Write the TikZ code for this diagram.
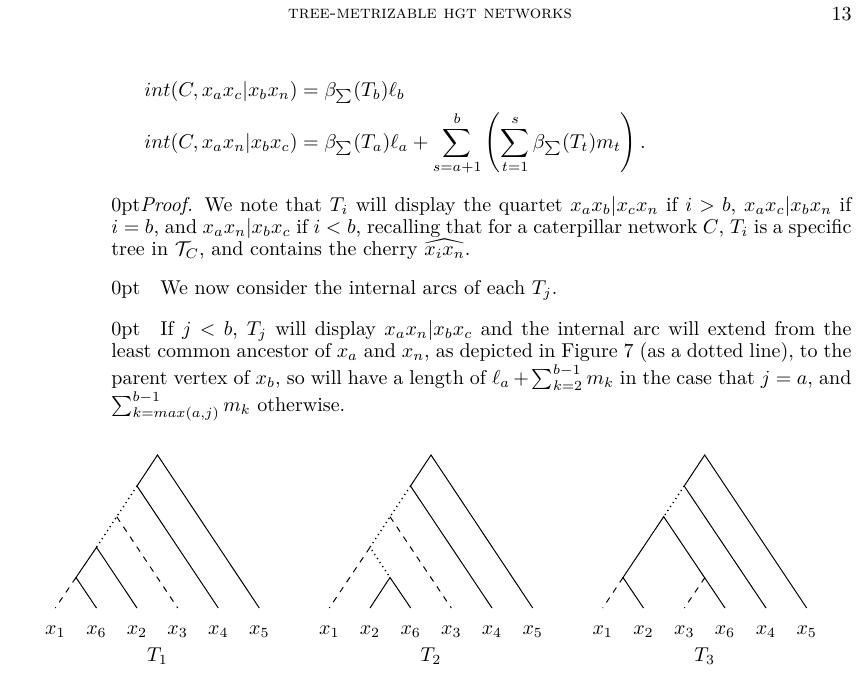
\documentclass[tikz,border=0pt]{standalone}
\usepackage{amsmath,amssymb}
\begin{document}
\begin{tikzpicture}[x=0.5pt,y=-0.5pt,
  sol/.style={line width=0.5pt},
  dsh/.style={line width=0.5pt,dash pattern=on 3pt off 3pt},
  dot/.style={line width=0.7pt,dash pattern=on 0.6pt off 1.8pt},
  lab/.style={inner sep=0pt,font=\fontsize{10}{11}\selectfont},
  txt/.style={inner sep=0pt,anchor=north west,text width=370pt,align=justify,font=\fontsize{10}{11}\selectfont\lineskiplimit=-10pt\lineskip=0pt}]
\useasboundingbox (0,0) rectangle (862,676);
\node[lab,font=\small] (hd) at (430,14) {\textsc{tree-metrizable hgt networks}};
\node[lab,anchor=east] (pg) at (852,14) {13};
\node[lab,anchor=west] (eq) at (144,128) {$\begin{aligned}
 int(C,x_ax_c|x_bx_n)&=\beta_{\sum}(T_b)\ell_b\\
 int(C,x_ax_n|x_bx_c)&=\beta_{\sum}(T_a)\ell_a+\sum_{s=a+1}^{b}\left(\sum_{t=1}^{s}\beta_{\sum}(T_t)m_t\right).
\end{aligned}$};
\node[txt] (p1) at (111,196) {\textit{Proof.} We note that $T_i$ will display the quartet $x_ax_b|x_cx_n$ if $i>b$, $x_ax_c|x_bx_n$ if $i=b$, and $x_ax_n|x_bx_c$ if $i<b$, recalling that for a caterpillar network $C$, $T_i$ is a specific tree in $\mathcal{T}_C$, and contains the cherry $\widehat{x_ix_n}$.};
\node[txt] (p2) at (111,280) {\hspace*{10pt}We now consider the internal arcs of each $T_j$.};
\node[txt] (p3) at (111,320) {\hspace*{10pt}If $j<b$, $T_j$ will display $x_ax_n|x_bx_c$ and the internal arc will extend from the least common ancestor of $x_a$ and $x_n$, as depicted in Figure 7 (as a dotted line), to the parent vertex of $x_b$, so will have a length of $\ell_a+\sum_{k=2}^{b-1}m_k$ in the case that $j=a$, and $\sum_{k=max(a,j)}^{b-1}m_k$ otherwise.};
% T1
\coordinate (r1) at (157.5,455); \coordinate (a4) at (137,486); \coordinate (a3) at (116.7,516.7);
\coordinate (a2) at (96.5,547.3); \coordinate (a6) at (76,577.5);
\coordinate (l11) at (55.3,608); \coordinate (l16) at (96.5,608); \coordinate (l12) at (137,608);
\coordinate (l13) at (177.7,608); \coordinate (l14) at (218.3,608); \coordinate (l15) at (259.3,608);
\draw[sol] (l15)--(r1)--(a4)--(l14); \draw[dot] (a4)--(a3)--(a2);
\draw[sol] (l12)--(a2)--(a6)--(l16); \draw[dsh] (a6)--(l11); \draw[dsh] (a3)--(l13);
\node[lab] (t11) at (55.3,632) {$x_1$}; \node[lab] (t16) at (96.5,632) {$x_6$};
\node[lab] (t12) at (137,632) {$x_2$}; \node[lab] (t13) at (177.7,632) {$x_3$};
\node[lab] (t14) at (218.3,632) {$x_4$}; \node[lab] (t15) at (259.3,632) {$x_5$};
\node[lab] (T1) at (157.5,656) {$T_1$};
% T2
\coordinate (r2) at (431,455); \coordinate (b4) at (410.5,486); \coordinate (b3) at (390,516.7);
\coordinate (bw) at (370,547.3); \coordinate (bc) at (390,577.5);
\coordinate (l21) at (329.3,608); \coordinate (l22) at (370,608); \coordinate (l26) at (410.7,608);
\coordinate (l23) at (451.3,608); \coordinate (l24) at (492,608); \coordinate (l25) at (532.7,608);
\draw[sol] (l25)--(r2)--(b4)--(l24); \draw[dot] (b4)--(b3)--(bw)--(bc);
\draw[dsh] (b3)--(l23); \draw[dsh] (bw)--(l21); \draw[sol] (l22)--(bc)--(l26);
\node[lab] (t21) at (329.3,632) {$x_1$}; \node[lab] (t22) at (370,632) {$x_2$};
\node[lab] (t26) at (410.7,632) {$x_6$}; \node[lab] (t23) at (451.3,632) {$x_3$};
\node[lab] (t24) at (492,632) {$x_4$}; \node[lab] (t25) at (532.7,632) {$x_5$};
\node[lab] (T2) at (431,656) {$T_2$};
% T3
\coordinate (r3) at (704.7,455); \coordinate (c4) at (684.2,486); \coordinate (cu) at (663.7,516.7);
\coordinate (cp) at (623,577.5); \coordinate (cq) at (705,577.5);
\coordinate (l31) at (602.7,608); \coordinate (l32) at (643.5,608); \coordinate (l33) at (684.3,608);
\coordinate (l36) at (725,608); \coordinate (l34) at (766,608); \coordinate (l35) at (806.7,608);
\draw[sol] (l35)--(r3)--(c4)--(l34); \draw[dot] (c4)--(cu);
\draw[sol] (l36)--(cu)--(cp)--(l32); \draw[dsh] (cp)--(l31); \draw[dsh] (cq)--(l33);
\node[lab] (t31) at (602.7,632) {$x_1$}; \node[lab] (t32) at (643.5,632) {$x_2$};
\node[lab] (t33) at (684.3,632) {$x_3$}; \node[lab] (t36) at (725,632) {$x_6$};
\node[lab] (t34) at (766,632) {$x_4$}; \node[lab] (t35) at (806.7,632) {$x_5$};
\node[lab] (T3) at (704.7,656) {$T_3$};
\end{tikzpicture}
\end{document}
